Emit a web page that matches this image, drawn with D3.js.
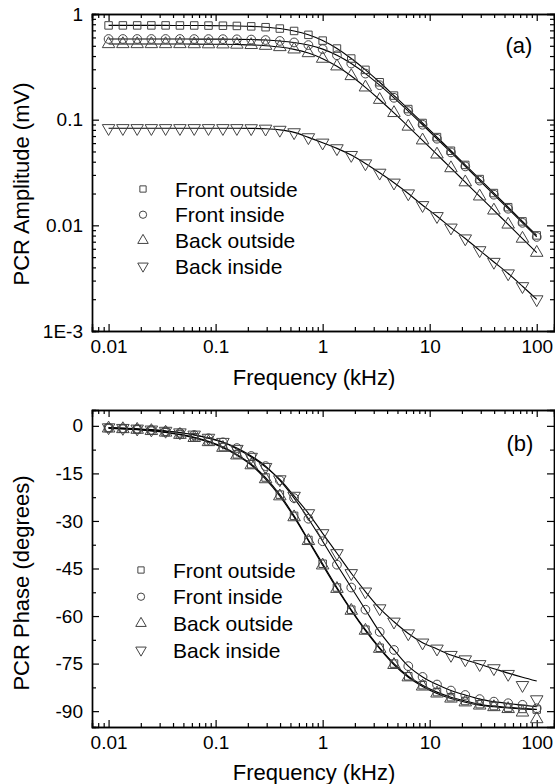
<!DOCTYPE html>
<html>
<head>
<meta charset="utf-8">
<script src="https://cdn.jsdelivr.net/npm/d3@7"></script>
<style>
  html, body { margin: 0; padding: 0; background: #fff; }
  svg { display: block; }
  text { font-family: "Liberation Sans", Arial, sans-serif; fill: #000; }
</style>
</head>
<body>
<svg id="chart" width="555" height="784"></svg>
<script>
// Modulation frequency (kHz)
const freq = [0.01, 0.0136, 0.0185, 0.0251, 0.0341, 0.0464, 0.0631, 0.0858, 0.117, 0.158,
  0.215, 0.293, 0.398, 0.541, 0.736, 1.0, 1.36, 1.85, 2.51, 3.41,
  4.64, 6.31, 8.58, 11.7, 15.8, 21.5, 29.3, 39.8, 54.1, 73.6, 100];

const seriesNames = ["Front outside", "Front inside", "Back outside", "Back inside"];

// PCR amplitude (mV)
const ampFrontOutside = [0.780, 0.780, 0.780, 0.780, 0.780, 0.779, 0.779, 0.777, 0.775, 0.771,
  0.764, 0.750, 0.728, 0.691, 0.635, 0.560, 0.471, 0.379, 0.296, 0.226,
  0.169, 0.126, 0.0930, 0.0684, 0.0508, 0.0373, 0.0274, 0.0202, 0.01485, 0.0109, 0.00803];
const ampFrontInside = [0.580, 0.580, 0.580, 0.580, 0.580, 0.580, 0.579, 0.579, 0.578, 0.576,
  0.573, 0.567, 0.556, 0.538, 0.508, 0.465, 0.407, 0.340, 0.273, 0.212,
  0.161, 0.1206, 0.0895, 0.0660, 0.0490, 0.0361, 0.0265, 0.0195, 0.01436, 0.01056, 0.00777];
const ampBackOutside = [0.520, 0.520, 0.520, 0.520, 0.520, 0.520, 0.519, 0.518, 0.517, 0.514,
  0.510, 0.501, 0.487, 0.463, 0.427, 0.378, 0.320, 0.259, 0.2022, 0.1544,
  0.1158, 0.0861, 0.0638, 0.0469, 0.0348, 0.0256, 0.0188, 0.01384, 0.01019, 0.00749, 0.00551];
const ampBackInside = [0.083, 0.083, 0.083, 0.083, 0.083, 0.083, 0.083, 0.083, 0.083, 0.083,
  0.0828, 0.0820, 0.0800, 0.0758, 0.0680, 0.0605, 0.0535, 0.0462, 0.0385, 0.0314,
  0.0253, 0.0200, 0.0155, 0.0122, 0.0095, 0.0075, 0.0058, 0.0045, 0.0035, 0.00265, 0.00199];

// PCR phase (degrees)
const phaseFrontOutside = [-0.7, -0.9, -1.1, -1.5, -2.0, -2.7, -3.6, -4.9, -6.7, -9.0,
  -12.1, -16.3, -21.7, -28.4, -36.0, -43.5, -51.0, -58.0, -64.3, -70.0,
  -75.0, -79.0, -81.8, -84.0, -85.6, -86.8, -87.8, -88.4, -88.9, -89.3, -89.5];
const phaseFrontInside = [-0.6, -0.8, -1.0, -1.3, -1.7, -2.2, -2.9, -3.9, -5.2, -7.0,
  -9.5, -12.7, -17.2, -22.8, -29.3, -36.4, -43.8, -51.0, -58.0, -65.0,
  -70.7, -75.8, -79.2, -81.6, -83.5, -84.9, -86.2, -87.0, -87.5, -88.0, -89.1];
const phaseBackOutside = [-0.8, -1.0, -1.2, -1.6, -2.1, -2.8, -3.8, -5.1, -6.9, -9.3,
  -12.4, -16.8, -22.2, -28.8, -36.3, -44.0, -51.4, -58.3, -64.6, -70.3,
  -75.4, -79.3, -82.2, -84.4, -86.0, -87.2, -88.2, -88.7, -89.3, -90.4, -92.5];
const phaseBackInside = [-0.5, -0.7, -0.9, -1.2, -1.6, -2.1, -2.8, -3.8, -5.1, -7.3,
  -9.8, -13.0, -16.9, -22.1, -27.6, -33.9, -40.2, -46.5, -52.3, -57.6,
  -61.8, -65.5, -68.4, -70.3, -72.3, -73.7, -75.2, -76.5, -78.3, -81.8, -86.3];

// Model fit curves for the phase
const fitPhaseFrontOutside = [-0.7, -0.9, -1.1, -1.5, -2.0, -2.7, -3.6, -4.9, -6.7, -9.0,
  -12.1, -16.3, -21.7, -28.4, -36.0, -43.5, -51.0, -58.0, -64.3, -70.0,
  -75.0, -79.0, -81.8, -84.0, -85.6, -86.8, -87.8, -88.4, -88.8, -89.1, -89.4];
const fitPhaseFrontInside = [-0.6, -0.8, -1.0, -1.3, -1.7, -2.2, -2.9, -3.9, -5.2, -7.0,
  -9.5, -12.7, -17.2, -22.8, -29.3, -36.4, -43.8, -51.0, -58.0, -65.0,
  -70.7, -75.8, -79.2, -81.6, -83.5, -84.9, -86.2, -87.0, -87.6, -88.1, -88.6];
const fitPhaseBackOutside = [-0.8, -1.0, -1.2, -1.6, -2.1, -2.8, -3.8, -5.1, -6.9, -9.3,
  -12.4, -16.8, -22.2, -28.8, -36.3, -44.0, -51.4, -58.3, -64.6, -70.3,
  -75.4, -79.3, -82.2, -84.4, -86.0, -87.2, -88.1, -88.6, -89.0, -89.3, -89.5];
const fitPhaseBackInside = [-0.5, -0.7, -0.9, -1.2, -1.6, -2.1, -2.8, -3.8, -5.1, -7.3,
  -9.8, -13.0, -16.9, -22.1, -27.6, -33.9, -40.2, -46.5, -52.3, -57.6,
  -61.8, -65.5, -68.4, -70.4, -72.3, -73.8, -75.2, -76.6, -78.0, -79.3, -80.5];

// Tick values
const freqTicks = [0.01, 0.1, 1, 10, 100];
const freqTickLabels = ["0.01", "0.1", "1", "10", "100"];
const ampTicks = [0.001, 0.01, 0.1, 1];
const ampTickLabels = ["1E-3", "0.01", "0.1", "1"];
const phaseTicks = [0, -15, -30, -45, -60, -75, -90];
const phaseMinorTicks = [-7.5, -22.5, -37.5, -52.5, -67.5, -82.5];

const svg = d3.select("#chart");

const FONT_TICK = 19;
const FONT_TITLE = 22;
const FONT_LEGEND = 21;

// Minor ticks of a log axis: 2..9 within each decade in the domain
function logMinor(domain) {
  const out = [];
  for (let e = -4; e <= 3; e++) {
    for (let m = 2; m <= 9; m++) {
      const v = m * Math.pow(10, e);
      if (v >= domain[0] && v <= domain[1]) out.push(v);
    }
  }
  return out;
}

const markerType = {
  "Front outside": { type: d3.symbolSquare, size: 56, rot: 0 },
  "Front inside": { type: d3.symbolCircle, size: 60, rot: 0 },
  "Back outside": { type: d3.symbolTriangle, size: 68, rot: 0 },
  "Back inside": { type: d3.symbolTriangle, size: 68, rot: 180 }
};

function drawPanel(cfg) {
  const { x, y, yTicks, yTickLabels, yMinor, series, fits, title, titleY, label, labelPos, legendPos, xTitleY } = cfg;
  const [x0, x1] = x.range();
  const [yb, yt] = y.range();
  const g = svg.append("g");

  // x axes (bottom with labels, top mirrored)
  const xMajor = d3.axisBottom(x).tickValues(freqTicks)
    .tickFormat((d, i) => freqTickLabels[i]).tickSize(-7).tickPadding(9);
  const xMinor = d3.axisBottom(x).tickValues(logMinor(x.domain())).tickFormat("").tickSize(-4);
  const xTopMajor = d3.axisTop(x).tickValues(freqTicks).tickFormat("").tickSize(-7);
  const xTopMinor = d3.axisTop(x).tickValues(logMinor(x.domain())).tickFormat("").tickSize(-4);

  const yMajorAx = d3.axisLeft(y).tickValues(yTicks)
    .tickFormat((d, i) => yTickLabels[i]).tickSize(-7).tickPadding(9);
  const yMinorAx = d3.axisLeft(y).tickValues(yMinor).tickFormat("").tickSize(-4);
  const yRightMajor = d3.axisRight(y).tickValues(yTicks).tickFormat("").tickSize(-7);
  const yRightMinor = d3.axisRight(y).tickValues(yMinor).tickFormat("").tickSize(-4);

  const axes = [
    [xMajor, `translate(0,${yb})`], [xMinor, `translate(0,${yb})`],
    [xTopMajor, `translate(0,${yt})`], [xTopMinor, `translate(0,${yt})`],
    [yMajorAx, `translate(${x0},0)`], [yMinorAx, `translate(${x0},0)`],
    [yRightMajor, `translate(${x1},0)`], [yRightMinor, `translate(${x1},0)`]
  ];
  axes.forEach(([ax, tr]) => {
    const a = g.append("g").attr("transform", tr).call(ax);
    a.select(".domain").attr("stroke", "#000").attr("stroke-width", 1.4);
    a.selectAll(".tick line").attr("stroke", "#000").attr("stroke-width", 1.2);
    a.selectAll(".tick text").attr("font-size", FONT_TICK)
      .attr("font-family", "Liberation Sans, Arial, sans-serif").attr("fill", "#000");
  });

  // fitted curves
  const line = d3.line()
    .x((d, i) => x(freq[i]))
    .y(d => y(d))
    .curve(d3.curveMonotoneX);
  fits.forEach(vals => {
    g.append("path").attr("d", line(vals))
      .attr("fill", "none").attr("stroke", "#000").attr("stroke-width", 1.1);
  });

  // measured points
  series.forEach((vals, k) => {
    const m = markerType[seriesNames[k]];
    const sym = d3.symbol().type(m.type).size(m.size);
    g.append("g").selectAll("path").data(vals).join("path")
      .attr("d", sym)
      .attr("transform", (d, i) => `translate(${x(freq[i])},${y(d)}) rotate(${m.rot})`)
      .attr("fill", "none").attr("stroke", "#444").attr("stroke-width", 1);
  });

  // legend
  seriesNames.forEach((name, k) => {
    const m = markerType[name];
    const sym = d3.symbol().type(m.type).size(m.size * 0.7);
    const ly = legendPos.y + k * legendPos.dy;
    g.append("path").attr("d", sym)
      .attr("transform", `translate(${legendPos.x},${ly}) rotate(${m.rot})`)
      .attr("fill", "none").attr("stroke", "#444").attr("stroke-width", 1);
    g.append("text").attr("x", legendPos.x + 32).attr("y", ly + 7.5)
      .attr("font-size", FONT_LEGEND).text(name);
  });

  // panel tag
  g.append("text").attr("x", labelPos.x).attr("y", labelPos.y)
    .attr("text-anchor", "middle").attr("font-size", FONT_TITLE).text(label);

  // axis titles
  g.append("text").attr("x", 314).attr("y", xTitleY)
    .attr("text-anchor", "middle").attr("font-size", FONT_TITLE).text("Frequency (kHz)");
  g.append("text")
    .attr("transform", `translate(29,${titleY}) rotate(-90)`)
    .attr("text-anchor", "middle").attr("font-size", FONT_TITLE).text(title);
}

const xA = d3.scaleLog().domain([0.007, 145]).range([92, 554]);
const yA = d3.scaleLog().domain([0.001, 1]).range([331, 14]);
drawPanel({
  x: xA, y: yA,
  yTicks: ampTicks, yTickLabels: ampTickLabels, yMinor: logMinor(yA.domain()),
  series: [ampFrontOutside, ampFrontInside, ampBackOutside, ampBackInside],
  fits: [ampFrontOutside, ampFrontInside, ampBackOutside, ampBackInside],
  title: "PCR Amplitude (mV)", titleY: 184, label: "(a)", labelPos: { x: 519, y: 53 },
  legendPos: { x: 143, y: 189, dy: 25.7 }, xTitleY: 385
});

const xP = d3.scaleLog().domain([0.007, 145]).range([92, 554]);
const yP = d3.scaleLinear().domain([-95, 5]).range([727, 410]);
drawPanel({
  x: xP, y: yP,
  yTicks: phaseTicks, yTickLabels: phaseTicks.map(String), yMinor: phaseMinorTicks,
  series: [phaseFrontOutside, phaseFrontInside, phaseBackOutside, phaseBackInside],
  fits: [fitPhaseFrontOutside, fitPhaseFrontInside, fitPhaseBackOutside, fitPhaseBackInside],
  title: "PCR Phase (degrees)", titleY: 583, label: "(b)", labelPos: { x: 520, y: 451 },
  legendPos: { x: 141, y: 570, dy: 26.7 }, xTitleY: 780
});
</script>
</body>
</html>
